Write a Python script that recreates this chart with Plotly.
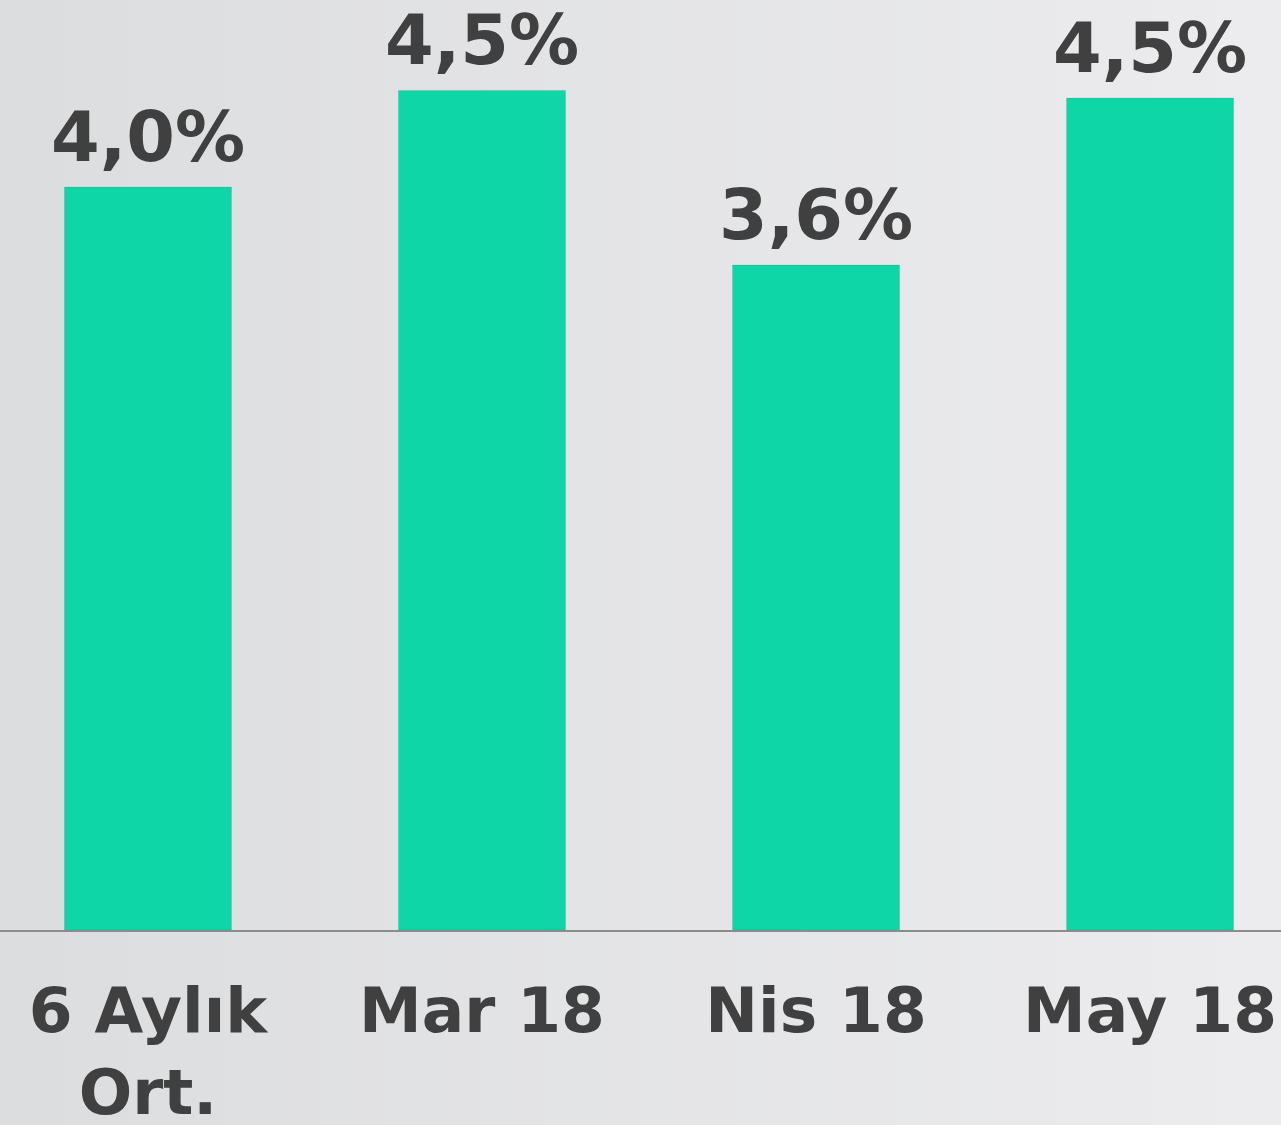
import plotly.graph_objects as go

categories = ["6 Aylık<br>Ort.", "Mar 18", "Nis 18", "May 18"]
values = [4.0, 4.52, 3.58, 4.48]
labels = ["4,0%", "4,5%", "3,6%", "4,5%"]

TEXT = "#404040"
BAR = "#0ed6a6"
FONT = "DejaVu Sans"

fig = go.Figure()
fig.add_trace(go.Bar(
    x=categories, y=values,
    marker=dict(color=BAR, line=dict(color="rgba(0,0,0,0.08)", width=1)),
    cliponaxis=False, width=0.5, hoverinfo="skip",
))

annotations = [
    dict(x=c, y=v, xref="x", yref="y", text=t, showarrow=False,
         yanchor="bottom", xanchor="center", yshift=7,
         font=dict(family=FONT, size=70, color=TEXT, weight="bold"))
    for c, v, t in zip(categories, values, labels)
]

# soft background gradient (left darker -> right lighter)
shapes = []
n = 40
c0 = (220, 221, 223)
c1 = (236, 236, 238)
for i in range(n):
    t = i / (n - 1)
    c = tuple(round(a + (b - a) * t) for a, b in zip(c0, c1))
    shapes.append(dict(type="rect", xref="paper", yref="paper",
                       x0=i / n, x1=(i + 1) / n + 0.002, y0=-0.25, y1=1.0,
                       fillcolor="rgb(%d,%d,%d)" % c, line=dict(width=0),
                       layer="below"))

fig.update_layout(
    width=1281, height=1125,
    margin=dict(l=0, r=0, t=0, b=195, autoexpand=False),
    paper_bgcolor="rgb(228,229,231)",
    plot_bgcolor="rgba(0,0,0,0)",
    showlegend=False,
    shapes=shapes,
    annotations=annotations,
    bargap=0.5,
    xaxis=dict(
        range=[-0.443, 3.392], showgrid=False, zeroline=False,
        showline=True, linecolor="#8c8c8c", linewidth=2, ticks="",
        ticklabelstandoff=24, automargin=False,
        tickfont=dict(family=FONT, size=63, color=TEXT, weight="bold"),
        fixedrange=True,
    ),
    yaxis=dict(range=[0, 5.007], visible=False, fixedrange=True,
               automargin=False),
)

fig.write_html("out.html", config={"displayModeBar": False},
               post_script="document.body.style.margin='0';document.body.style.overflow='hidden';")
